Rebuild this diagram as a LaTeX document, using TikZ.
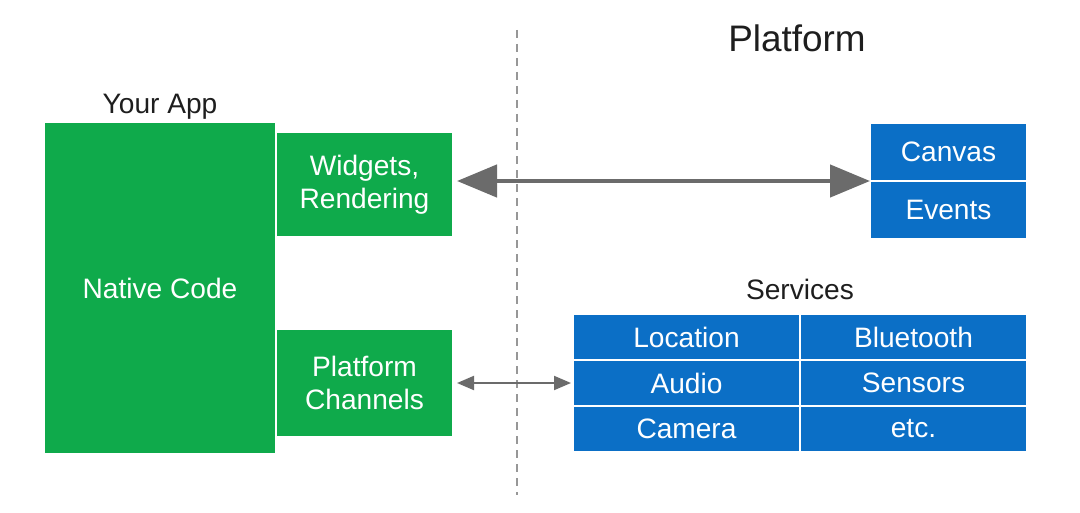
\documentclass[tikz,border=0pt]{standalone}
\usepackage{fontspec}
\setmainfont{Liberation Sans}
\usetikzlibrary{arrows.meta,positioning}
\definecolor{appgreen}{HTML}{0FAA4B}
\definecolor{platblue}{HTML}{0B6FC6}
\definecolor{linkgray}{HTML}{6B6B6B}
\definecolor{ink}{HTML}{1E1E1E}

\begin{document}
\begin{tikzpicture}[
  app/.style={rectangle, fill=appgreen, text=white, inner sep=0pt, outer sep=0pt,
    font=\fontsize{16}{19}\selectfont, align=center},
  cell/.style={rectangle, fill=platblue, draw=white, line width=0.8pt, text=white,
    inner sep=0pt, outer sep=0pt, minimum height=9.2mm, font=\fontsize{16}{19}\selectfont},
  caption/.style={text=ink, font=\fontsize{16}{19}\selectfont},
  biglink/.style={{Triangle[length=8mm,width=6.4mm]}-{Triangle[length=8mm,width=6.4mm]}, line width=2.6pt, linkgray},
  smalllink/.style={{Triangle[length=3.4mm,width=2.8mm]}-{Triangle[length=3.4mm,width=2.8mm]}, line width=1.1pt, linkgray},
]
  \useasboundingbox (0,0) rectangle (21.6,10.24);

  % your app side
  \node[app, minimum width=46mm, minimum height=66mm, anchor=south west] (native) at (0.9,1.18) {Native Code};
  \node[app, minimum width=35mm, minimum height=20.6mm, anchor=south west] (widgets) at (5.54,5.52) {Widgets,\\Rendering};
  \node[app, minimum width=35mm, minimum height=21.2mm, anchor=south west] (channels) at (5.54,1.52) {Platform\\Channels};
  \node[caption, above=2mm of native.north, anchor=base] (yourapp) {Your App};

  % divider
  \coordinate (divtop) at (10.34,9.64);
  \coordinate (divbot) at (10.34,0.34);
  \draw[linkgray!70, dash pattern=on 1.6mm off 1.2mm, line width=0.6pt] (divtop) -- (divbot);

  % platform side
  \node[caption, font=\fontsize{21}{25}\selectfont, anchor=base] (platform) at (15.94,9.2) {Platform};
  \node[cell, minimum width=31.4mm, minimum height=11.6mm, anchor=north west] (canvas) at (17.4,7.78) {Canvas};
  \node[cell, minimum width=31.4mm, minimum height=11.6mm, below=0pt of canvas] (events) {Events};

  \node[cell, minimum width=45.4mm, anchor=north west] (location) at (11.46,3.96) {Location};
  \node[cell, minimum width=45.4mm, right=0pt of location] (bluetooth) {Bluetooth};
  \node[cell, minimum width=45.4mm, below=0pt of location] (audio) {Audio};
  \node[cell, minimum width=45.4mm, below=0pt of bluetooth] (sensors) {Sensors};
  \node[cell, minimum width=45.4mm, below=0pt of audio] (camera) {Camera};
  \node[cell, minimum width=45.4mm, below=0pt of sensors] (etc) {etc.};
  \node[caption, above=3mm of location.north east, anchor=base] (services) {Services};

  \draw[biglink] ([xshift=1mm]widgets.east |- canvas.south west) -- (canvas.south west);
  \draw[smalllink] ([xshift=1mm]channels.east |- audio.west) -- ([xshift=-0.4mm]audio.west);
\end{tikzpicture}
\end{document}
